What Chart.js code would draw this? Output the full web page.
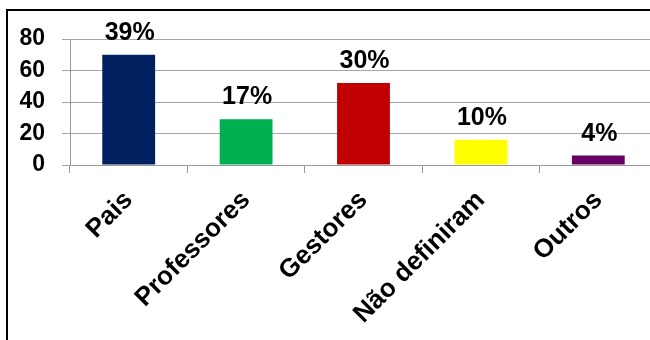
<!DOCTYPE html>
<html>
<head>
<meta charset="utf-8">
<script src="https://cdn.jsdelivr.net/npm/chart.js@4"></script>
<style>
  html, body { margin: 0; padding: 0; background: #fff; overflow: hidden; }
  #wrap { position: absolute; left: 0; top: 0; width: 665px; height: 340px; }
  #frame { position: absolute; left: 6px; top: 9px; width: 700px; height: 400px;
           border-left: 2px solid #000; border-top: 2px solid #000; pointer-events: none; }
</style>
</head>
<body>
<div id="wrap"><canvas id="myChart"></canvas></div>
<div id="frame"></div>
<script>
// 데이터
const categorias = ['Pais', 'Professores', 'Gestores', 'Não definiram', 'Outros'];
const valores = [70, 29, 52, 16, 6];
const percentuais = ['39%', '17%', '30%', '10%', '4%'];
const cores = ['#002060', '#00B050', '#C00000', '#FFFF00', '#660066'];
const yTicks = [0, 20, 40, 60, 80];

const FONT = 'Liberation Sans, Arial, sans-serif';

// 막대 위에 퍼센트 표시
const rotulos = {
  id: 'rotulos',
  afterDatasetsDraw(chart) {
    const ctx = chart.ctx;
    const meta = chart.getDatasetMeta(0);
    ctx.save();
    ctx.font = 'bold 25px ' + FONT;
    ctx.fillStyle = '#000';
    ctx.textAlign = 'center';
    ctx.textBaseline = 'alphabetic';
    meta.data.forEach((bar, i) => {
      ctx.fillText(percentuais[i], bar.x + 1, bar.y - 15);
    });
    ctx.restore();
  }
};

const ctx = document.getElementById('myChart');
new Chart(ctx, {
  type: 'bar',
  data: {
    labels: categorias,
    datasets: [{
      data: valores,
      backgroundColor: cores,
      borderWidth: 0,
      barPercentage: 0.45,
      categoryPercentage: 1
    }]
  },
  options: {
    responsive: true,
    maintainAspectRatio: false,
    animation: false,
    layout: { padding: { top: 39, right: 8, left: 0, bottom: 0 } },
    plugins: { legend: { display: false }, tooltip: { enabled: false } },
    scales: {
      x: {
        grid: { display: true, drawOnChartArea: false, color: '#999', tickLength: 8, offset: true },
        border: { color: '#999' },
        ticks: {
          color: '#000',
          font: { family: FONT, size: 26, weight: 'bold' },
          maxRotation: 45, minRotation: 45, padding: 12
        },
        afterFit(axis) { axis.height = 175; }
      },
      y: {
        min: 0, max: 80,
        afterBuildTicks(axis) { axis.ticks = yTicks.map(v => ({ value: v })); },
        grid: { color: '#a6a6a6', tickLength: 8 },
        border: { color: '#999' },
        ticks: {
          color: '#000',
          font: { family: FONT, size: 23, weight: 'bold' },
          padding: 17
        },
        afterFit(axis) { axis.width = 70; }
      }
    }
  },
  plugins: [rotulos]
});
</script>
</body>
</html>
